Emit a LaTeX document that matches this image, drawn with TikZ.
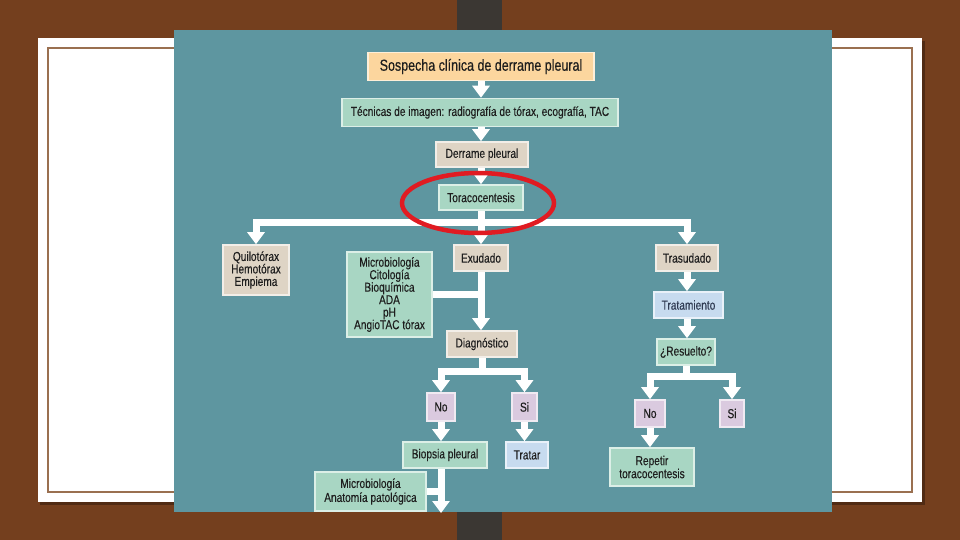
\documentclass[tikz,border=0pt]{standalone}
\usepackage{fontspec}
\setmainfont[FakeStretch=0.78,FakeBold=0.3]{Liberation Sans}
\usetikzlibrary{arrows.meta}
\definecolor{wood}{HTML}{743F1E}
\definecolor{spine}{HTML}{3B3733}
\definecolor{teal}{HTML}{5E96A0}
\definecolor{cardline}{HTML}{9A7050}
\definecolor{peach}{HTML}{FCD69E}
\definecolor{mint}{HTML}{A8D6C3}
\definecolor{beige}{HTML}{DED4C5}
\definecolor{sky}{HTML}{C7DBEF}
\definecolor{lilac}{HTML}{DACADF}
\definecolor{txt}{HTML}{1E1E1E}
\definecolor{slate}{HTML}{2F3A52}
\definecolor{ring}{HTML}{E01B22}
\tikzset{
  box/.style={fill=#1, draw=#1!40!white, line width=1.6pt, inner sep=1pt,
    align=center, text=txt, font=\fontsize{13}{12.5}\selectfont},
  wline/.style={draw=white, line width=7pt},
  warr/.style={draw=white, line width=7pt, -{Triangle[width=17pt,length=12pt]}},
}
\begin{document}
\begin{tikzpicture}[x=1pt,y=-1pt]
\useasboundingbox (0,0) rectangle (960,540);
% background
\fill[wood] (0,0) rectangle (960,540);
\fill[spine] (457,0) rectangle (502,540);
% card
\fill[black,opacity=0.3] (40,41) rectangle (925,505);
\fill[white] (38,38) rectangle (922,502);
\draw[cardline, line width=2.2pt] (48,48) rectangle (912,492);
% panel
\fill[teal] (174,30) rectangle (832,512);

% nodes
\node[box=peach, minimum width=226, minimum height=28, font=\fontsize{16}{16}\selectfont] (sos) at (481,66.5) {Sospecha clínica de derrame pleural};
\node[box=mint, minimum width=276, minimum height=28, font=\fontsize{13}{13}\selectfont] (tec) at (480,112.5) {Técnicas de imagen: radiografía de tórax, ecografía, TAC};
\node[box=beige, minimum width=92, minimum height=25] (der) at (482,154.5) {Derrame pleural};
\node[box=mint, minimum width=84, minimum height=25] (tor) at (481,197.5) {Toracocentesis};
\node[box=beige, minimum width=66, minimum height=50] (quilo) at (256,270) {Quilotórax\\Hemotórax\\Empiema};
\node[box=mint, minimum width=85, minimum height=85] (micro) at (389.5,294.5) {Microbiología\\Citología\\Bioquímica\\ADA\\pH\\AngioTAC tórax};
\node[box=beige, minimum width=54, minimum height=26] (exu) at (481,258) {Exudado};
\node[box=beige, minimum width=62, minimum height=26] (tras) at (687,258) {Trasudado};
\node[box=sky, minimum width=69, minimum height=26, text=slate] (trat) at (688.5,305) {Tratamiento};
\node[box=mint, minimum width=58, minimum height=26] (res) at (686,352) {¿Resuelto?};
\node[box=beige, minimum width=70, minimum height=26] (diag) at (482,344) {Diagnóstico};
\node[box=lilac, minimum width=28, minimum height=28] (noa) at (441,407) {No};
\node[box=lilac, minimum width=25, minimum height=28] (sia) at (524.5,407) {Si};
\node[box=mint, minimum width=84, minimum height=26] (bio) at (445,455) {Biopsia pleural};
\node[box=sky, minimum width=42, minimum height=26] (tratar) at (527,455) {Tratar};
\node[box=mint, minimum width=111, minimum height=39, font=\fontsize{13}{14}\selectfont] (micro2) at (370.5,491.5) {Microbiología\\Anatomía patológica};
\node[box=lilac, minimum width=30, minimum height=27] (nob) at (650,413.5) {No};
\node[box=lilac, minimum width=24, minimum height=27] (sib) at (732,413.5) {Si};
\node[box=mint, minimum width=84, minimum height=38, font=\fontsize{13}{13}\selectfont] (rep) at (652,467) {Repetir\\toracocentesis};

% junctions
\coordinate (split1) at (481,222);
\coordinate (split2) at (482,371);
\coordinate (split3) at (686,376);
\coordinate (bottomend) at (441,513);

% connectors
\draw[warr] (sos.south) -- (sos.south |- tec.north);
\draw[warr] (tec.south -| sos) -- (sos |- der.north);
\draw[warr] (der.south -| sos) -- (sos |- tor.north);
\draw[wline] (tor.south) -- (split1);
\draw[warr] (split1) -- (split1 |- exu.north);
\draw[warr] (split1) -| (quilo.north);
\draw[warr] (split1) -| (tras.north);
\draw[warr] (exu.south) -- (exu.south |- diag.north);
\draw[wline] (micro.east) -- (micro.east -| exu);
\draw[warr] (tras.south) -- (tras.south |- trat.north);
\draw[warr] (trat.south -| tras) -- (tras |- res.north);
\draw[wline] (diag.south) -- (split2);
\draw[warr] (split2) -| (noa.north);
\draw[warr] (split2) -| (sia.north);
\draw[warr] (noa.south) -- (noa.south |- bio.north);
\draw[warr] (sia.south) -- (sia.south |- tratar.north);
\draw[warr] (bio.south -| noa) -- (bottomend);
\draw[wline] (micro2.east) -- (micro2.east -| noa);
\draw[wline] (res.south) -- (split3);
\draw[warr] (split3) -| (nob.north);
\draw[warr] (split3) -| (sib.north);
\draw[warr] (nob.south) -- (nob.south |- rep.north);

% red ring
\draw[ring, line width=4.5pt] (478,203) ellipse [x radius=76, y radius=30];
\end{tikzpicture}
\end{document}
